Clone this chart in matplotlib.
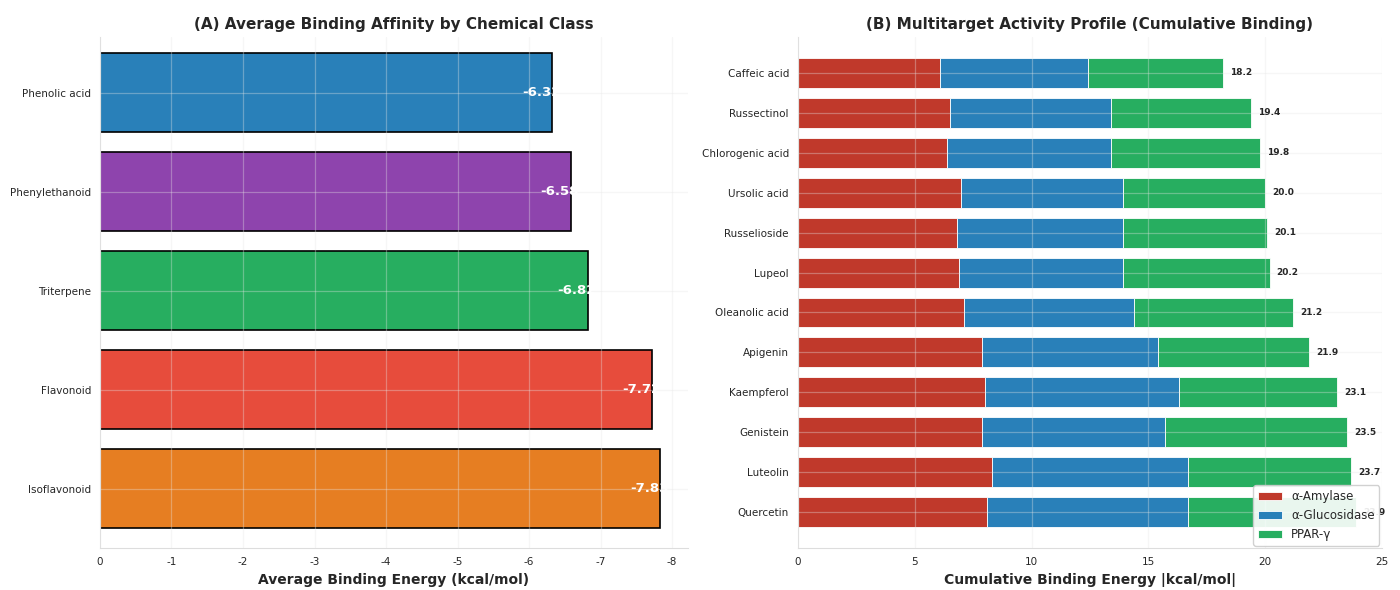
import matplotlib
matplotlib.use("Agg")
import matplotlib.pyplot as plt
import numpy as np
import seaborn as sns

sns.set_style("whitegrid")
plt.rcParams['font.family'] = ['DejaVu Sans']

# Panel A: mean binding energy per chemical class
classes = ["Phenolic acid", "Phenylethanoid", "Triterpene", "Flavonoid", "Isoflavonoid"]
class_energy = [-6.32, -6.58, -6.82, -7.72, -7.83]
class_colors = ["#2980b9", "#8e44ad", "#27ae60", "#e74c3c", "#e67e22"]

# Panel B: per-target binding magnitudes for each compound
compounds = ["Caffeic acid", "Russectinol", "Chlorogenic acid", "Ursolic acid",
             "Russelioside", "Lupeol", "Oleanolic acid", "Apigenin", "Kaempferol",
             "Genistein", "Luteolin", "Quercetin"]
amylase = [6.1, 6.5, 6.4, 7.0, 6.8, 6.9, 7.1, 7.9, 8.0, 7.9, 8.3, 8.1]
glucosidase = [6.3, 6.9, 7.0, 6.9, 7.1, 7.0, 7.3, 7.5, 8.3, 7.8, 8.4, 8.6]
ppar = [5.8, 6.0, 6.4, 6.1, 6.2, 6.3, 6.8, 6.5, 6.8, 7.8, 7.0, 7.2]
target_names = ["α-Amylase", "α-Glucosidase", "PPAR-γ"]
target_colors = ["#c0392b", "#2980b9", "#27ae60"]

fig = plt.figure(figsize=(14, 5.9), dpi=100)
ax1 = fig.add_axes([0.0714, 0.0712, 0.420, 0.866])
ax2 = fig.add_axes([0.570, 0.0712, 0.417, 0.866])

# ---- Panel A ----
ypos = np.arange(len(classes))
ax1.barh(ypos, class_energy, height=0.8, color=class_colors,
         edgecolor="black", linewidth=1.2)
for y, v in zip(ypos, class_energy):
    ax1.text(v + 0.42, y, f"{v:.2f}", va="center", ha="left",
             color="white", fontsize=9.5, fontweight="bold")
ax1.set_yticks(ypos)
ax1.set_yticklabels(classes, fontsize=7.5)
ax1.set_ylim(4.6, -0.56)
ax1.set_xticks(np.arange(0, -9, -1))
ax1.set_xticklabels([str(t) for t in range(0, -9, -1)], fontsize=7.5)
ax1.invert_xaxis()
ax1.set_xlabel("Average Binding Energy (kcal/mol)", fontsize=10, fontweight="bold")
ax1.set_title("(A) Average Binding Affinity by Chemical Class", fontsize=11,
              fontweight="bold")

# ---- Panel B ----
ypos2 = np.arange(len(compounds))
left = np.zeros(len(compounds))
for vals, name, col in zip([amylase, glucosidase, ppar], target_names, target_colors):
    ax2.barh(ypos2, vals, left=left, height=0.75, color=col,
             edgecolor="white", linewidth=0.6, label=name)
    left = left + np.array(vals)
for y, tot in zip(ypos2, left):
    ax2.text(tot + 0.3, y, f"{tot:.1f}", va="center", ha="left",
             fontsize=6.5, fontweight="bold")
ax2.set_yticks(ypos2)
ax2.set_yticklabels(compounds, fontsize=7.5)
ax2.set_ylim(11.9, -0.9)
ax2.set_xlim(0, 25)
ax2.set_xticks([0, 5, 10, 15, 20, 25])
ax2.tick_params(axis="x", labelsize=7.5)
ax2.set_xlabel("Cumulative Binding Energy |kcal/mol|", fontsize=10, fontweight="bold")
ax2.set_title("(B) Multitarget Activity Profile (Cumulative Binding)", fontsize=11,
              fontweight="bold")
ax2.legend(loc="lower right", fontsize=8.5, frameon=True, borderaxespad=0.2,
           framealpha=0.9)

for ax in (ax1, ax2):
    # light grid drawn over the bars
    ax.set_axisbelow(False)
    ax.grid(True, color="#e6e6e6", alpha=0.35, linewidth=0.9)
    ax.tick_params(axis="both", length=3, color="#bbbbbb")
    for s in ("top", "right"):
        ax.spines[s].set_visible(False)
    for s in ("left", "bottom"):
        ax.spines[s].set_color("#dddddd")

fig.savefig("out.png", dpi=100)
